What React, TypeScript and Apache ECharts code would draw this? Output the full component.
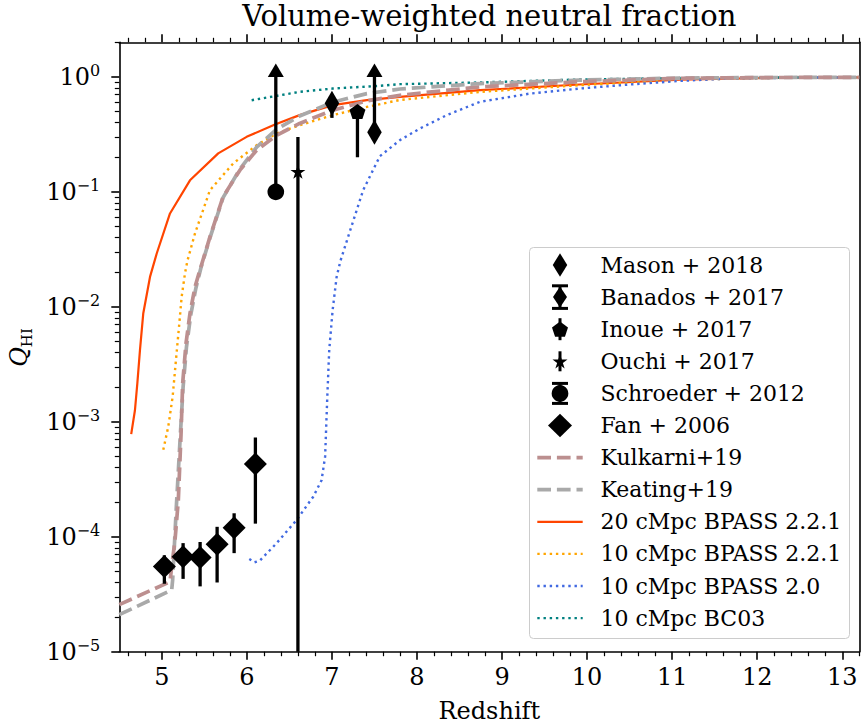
import React, { useEffect, useRef } from 'react';
import * as echarts from 'echarts';

const FONT = 'DejaVu Serif';

// ---------- axes ----------
const X_MIN = 4.5;
const X_MAX = 13.2;
const Y_MIN = 1e-5;
const Y_MAX = 2;
const xMajorTicks = [5, 6, 7, 8, 9, 10, 11, 12, 13];
const yMajorExponents = [-5, -4, -3, -2, -1, 0];

// ---------- observations ----------
const fanZ = [5.03, 5.25, 5.45, 5.65, 5.85, 6.1];
const fanQ = [5.5e-5, 6.7e-5, 6.6e-5, 8.6e-5, 1.2e-4, 4.3e-4];
const fanLow = [3.9e-5, 4.3e-5, 3.7e-5, 4.0e-5, 7.2e-5, 1.3e-4];
const fanHigh = [6.9e-5, 8.8e-5, 9.0e-5, 1.22e-4, 1.6e-4, 7.3e-4];

const masonZ = [7.0];
const masonQ = [0.59];
const masonLow = [0.44];
const masonHigh = [0.7];

const banadosZ = [7.5];
const banadosQ = [0.33];
const banadosLow = [0.33];
const banadosHigh = [1.0];

const inoueZ = [7.3];
const inoueQ = [0.5];
const inoueLow = [0.2];
const inoueHigh = [0.5];

const ouchiZ = [6.6];
const ouchiQ = [0.15];
const ouchiLow = [0];
const ouchiHigh = [0.3];

const schroederZ = [6.34];
const schroederQ = [0.1];
const schroederLow = [0.1];
const schroederHigh = [1.0];

// ---------- model curves ----------
const kulkarniZ = [4.5, 5.096, 5.116, 5.155, 5.194, 5.226, 5.245, 5.284, 5.331, 5.39, 5.448, 5.566, 5.72, 5.918, 6.115, 6.35, 6.62, 7.01, 7.41, 7.8, 8.74, 9.91, 11.09, 12.2, 13.2];
const kulkarniQ = [2.57e-5, 4.06e-5, 5.48e-5, 9.35e-5, 2.08e-4, 7.9e-4, 2.16e-3, 4.8e-3, 8.77e-3, 0.0149, 0.0209, 0.0406, 0.0906, 0.1545, 0.2307, 0.311, 0.394, 0.513, 0.618, 0.693, 0.818, 0.906, 0.973, 0.988, 0.991];

const keatingZ = [4.5, 5.116, 5.127, 5.17, 5.215, 5.25, 5.29, 5.34, 5.4, 5.46, 5.566, 5.72, 5.918, 6.115, 6.35, 6.62, 7.01, 7.41, 7.8, 8.74, 9.91, 11.09, 12.2, 13.2];
const keatingQ = [2.1e-5, 3.44e-5, 4.2e-5, 1.78e-4, 7.1e-4, 2.0e-3, 4.5e-3, 8.5e-3, 0.0145, 0.0219, 0.0398, 0.089, 0.158, 0.245, 0.351, 0.457, 0.603, 0.716, 0.785, 0.875, 0.938, 0.977, 0.988, 0.991];

const bpass221_20Z = [4.64, 4.684, 4.712, 4.743, 4.782, 4.861, 4.94, 5.096, 5.331, 5.663, 5.997, 6.33, 6.62, 7.01, 7.41, 7.8, 8.74, 9.91, 11.09, 12.2, 13.2];
const bpass221_20Q = [7.8e-4, 1.26e-3, 2.16e-3, 4.2e-3, 8.8e-3, 0.0182, 0.0291, 0.0649, 0.126, 0.216, 0.301, 0.386, 0.465, 0.568, 0.627, 0.67, 0.766, 0.859, 0.948, 0.982, 0.991];

const bpass221_10Z = [5.017, 5.076, 5.127, 5.166, 5.202, 5.233, 5.272, 5.3, 5.39, 5.566, 5.84, 6.115, 6.35, 6.62, 7.01, 7.41, 7.8, 8.74, 9.91, 11.09, 12.2, 13.2];
const bpass221_10Q = [5.7e-4, 9.1e-4, 1.65e-3, 3.44e-3, 6.7e-3, 0.0122, 0.0195, 0.025, 0.0435, 0.1035, 0.177, 0.255, 0.322, 0.38, 0.465, 0.548, 0.63, 0.741, 0.847, 0.944, 0.98, 0.991];

const bpass20_10Z = [6.028, 6.09, 6.153, 6.35, 6.585, 6.78, 6.878, 6.92, 6.944, 6.968, 7.008, 7.055, 7.1, 7.19, 7.367, 7.563, 7.8, 8.035, 8.35, 8.74, 9.326, 9.91, 10.5, 11.09, 11.68, 12.5, 13.2];
const bpass20_10Q = [6.4e-5, 6.0e-5, 6.2e-5, 8.8e-5, 1.4e-4, 2.23e-4, 3.1e-4, 5.0e-4, 1.55e-3, 4.2e-3, 9.35e-3, 0.0182, 0.0251, 0.0406, 0.1035, 0.204, 0.282, 0.356, 0.465, 0.607, 0.716, 0.792, 0.859, 0.923, 0.968, 0.986, 0.991];

const bc03Z = [6.056, 6.62, 7.01, 7.56, 7.8, 8.74, 9.91, 11.09, 12.2, 13.2];
const bc03Q = [0.627, 0.741, 0.792, 0.836, 0.865, 0.895, 0.95, 0.977, 0.988, 0.991];

// ---------- helpers ----------
const LOG = (v: number) => Math.log10(v);
const LOG_MIN = LOG(Y_MIN);
const LOG_MAX = LOG(Y_MAX);

const xMinorTicks: number[] = [];
for (let i = Math.ceil(X_MIN * 5); i <= Math.floor(X_MAX * 5 + 1e-9); i++) {
  if (i % 5 !== 0) xMinorTicks.push(Math.round(i * 2) / 10);
}
const yMinorTicks: number[] = [];
for (let n = -5; n <= 0; n++) {
  for (let k = 2; k <= 9; k++) {
    const v = LOG(k * Math.pow(10, n));
    if (v <= LOG_MAX + 1e-12) yMinorTicks.push(Math.min(v, LOG_MAX));
  }
}

const PENT = [[0, -1], [0.951, -0.309], [0.588, 0.809], [-0.588, 0.809], [-0.951, -0.309]];
const STAR = [[0, -1], [0.225, -0.309], [0.951, -0.309], [0.363, 0.118], [0.588, 0.809], [0, 0.382], [-0.588, 0.809], [-0.363, 0.118], [-0.951, -0.309], [-0.225, -0.309]];
const toPath = (pts: number[][]) => 'path://M' + pts.map((p) => p[0] + ',' + p[1]).join('L') + 'Z';

type Obs = {
  name: string; z: number[]; q: number[]; lo: number[]; hi: number[]; lowerLimit: boolean;
  kind: 'diamond' | 'pent' | 'star' | 'circle'; w: number; h: number;
  legendBar: number; legendCaps: boolean; legendW: number; legendH: number;
};

const observations: Obs[] = [
  { name: 'Mason + 2018', z: masonZ, q: masonQ, lo: masonLow, hi: masonHigh, lowerLimit: false, kind: 'diamond', w: 14.5, h: 25, legendBar: 0, legendCaps: false, legendW: 14.5, legendH: 23.5 },
  { name: 'Banados + 2017', z: banadosZ, q: banadosQ, lo: banadosLow, hi: banadosHigh, lowerLimit: true, kind: 'diamond', w: 14.5, h: 25, legendBar: 11.3, legendCaps: true, legendW: 14, legendH: 21 },
  { name: 'Inoue + 2017', z: inoueZ, q: inoueQ, lo: inoueLow, hi: inoueHigh, lowerLimit: false, kind: 'pent', w: 16, h: 15.2, legendBar: 11, legendCaps: false, legendW: 16, legendH: 15.2 },
  { name: 'Ouchi + 2017', z: ouchiZ, q: ouchiQ, lo: ouchiLow, hi: ouchiHigh, lowerLimit: false, kind: 'star', w: 15, h: 14.3, legendBar: 10, legendCaps: false, legendW: 15, legendH: 14.3 },
  { name: 'Schroeder + 2012', z: schroederZ, q: schroederQ, lo: schroederLow, hi: schroederHigh, lowerLimit: true, kind: 'circle', w: 16.7, h: 16.7, legendBar: 10, legendCaps: true, legendW: 16.7, legendH: 16.7 },
  { name: 'Fan + 2006', z: fanZ, q: fanQ, lo: fanLow, hi: fanHigh, lowerLimit: false, kind: 'diamond', w: 23, h: 23, legendBar: 0, legendCaps: false, legendW: 24, legendH: 23.5 },
];

type Curve = { name: string; z: number[]; q: number[]; color: string; width: number; dash: number[] | 'solid'; order: number };
const DASHED = [13.7, 5.9];
const DOTTED = [2.4, 3.8];
const curves: Curve[] = [
  { name: 'Kulkarni+19', z: kulkarniZ, q: kulkarniQ, color: '#bc8f8f', width: 3.7, dash: DASHED, order: 6 },
  { name: 'Keating+19', z: keatingZ, q: keatingQ, color: '#a9a9a9', width: 3.7, dash: DASHED, order: 5 },
  { name: '20 cMpc BPASS 2.2.1', z: bpass221_20Z, q: bpass221_20Q, color: '#ff4500', width: 2.2, dash: 'solid', order: 1 },
  { name: '10 cMpc BPASS 2.2.1', z: bpass221_10Z, q: bpass221_10Q, color: '#ffa500', width: 2.4, dash: DOTTED, order: 2 },
  { name: '10 cMpc BPASS 2.0', z: bpass20_10Z, q: bpass20_10Q, color: '#4169e1', width: 2.4, dash: DOTTED, order: 3 },
  { name: '10 cMpc BC03', z: bc03Z, q: bc03Q, color: '#008080', width: 2.4, dash: DOTTED, order: 4 },
];

const symbolFor = (kind: Obs['kind']) =>
  kind === 'diamond' ? 'diamond' : kind === 'circle' ? 'circle' : kind === 'pent' ? toPath(PENT) : toPath(STAR);

// ---------- layout ----------
const GRID = { left: 119.3, right: 1.7, top: 42.3, bottom: 75.3 };
const LEG = { x: 529.5, y: 247.5, w: 320, h: 391, row0: 265, rowGap: 32.1, iconX: 560, textX: 600.5, lineX0: 537.3, lineX1: 582.7 };

function markerShape(kind: Obs['kind'], cx: number, cy: number, w: number, h: number) {
  if (kind === 'circle') return { type: 'circle', shape: { cx, cy, r: w / 2 }, style: { fill: '#000' }, z: 102 };
  let pts: number[][];
  if (kind === 'diamond') pts = [[0, -h / 2], [w / 2, 0], [0, h / 2], [-w / 2, 0]];
  else {
    const base = kind === 'pent' ? PENT : STAR;
    const sx = w / 1.902, sy = h / 1.809;
    pts = base.map((p) => [p[0] * sx, (p[1] + 0.0955) * sy]);
  }
  return { type: 'polygon', shape: { points: pts.map((p) => [cx + p[0], cy + p[1]]) }, style: { fill: '#000' }, z: 102 };
}

function buildLegend() {
  const els: any[] = [];
  els.push({ type: 'rect', shape: { x: LEG.x, y: LEG.y, width: LEG.w, height: LEG.h, r: 4 }, style: { fill: 'rgba(255,255,255,0.8)', stroke: '#cccccc', lineWidth: 1 }, z: 100 });
  let row = 0;
  observations.forEach((o) => {
    const cy = LEG.row0 + row * LEG.rowGap;
    if (o.legendBar > 0) {
      els.push({ type: 'line', shape: { x1: LEG.iconX, y1: cy - o.legendBar, x2: LEG.iconX, y2: cy + o.legendBar }, style: { stroke: '#000', lineWidth: 3 }, z: 101 });
      if (o.legendCaps) {
        [cy - o.legendBar, cy + o.legendBar].forEach((yy) =>
          els.push({ type: 'line', shape: { x1: LEG.iconX - 8, y1: yy, x2: LEG.iconX + 8, y2: yy }, style: { stroke: '#000', lineWidth: 3 }, z: 101 })
        );
      }
    }
    els.push(markerShape(o.kind, LEG.iconX, cy, o.legendW, o.legendH));
    els.push({ type: 'text', x: LEG.textX, y: cy, style: { text: o.name, fontSize: 22, fontFamily: FONT, fill: '#000', align: 'left', verticalAlign: 'middle' }, z: 102 });
    row++;
  });
  curves.forEach((c) => {
    const cy = LEG.row0 + row * LEG.rowGap;
    els.push({ type: 'line', shape: { x1: LEG.lineX0, y1: cy, x2: LEG.lineX1, y2: cy }, style: { stroke: c.color, lineWidth: c.width, lineDash: c.dash === 'solid' ? null : c.dash, lineCap: 'butt' }, z: 101 });
    els.push({ type: 'text', x: LEG.textX, y: cy, style: { text: c.name, fontSize: 22, fontFamily: FONT, fill: '#000', align: 'left', verticalAlign: 'middle' }, z: 102 });
    row++;
  });
  return els;
}

function buildOption() {
  const axisLine = { color: '#000', width: 1.6 };
  const baseX = { type: 'value', min: X_MIN, max: X_MAX, splitLine: { show: false } };
  const baseY = { type: 'value', min: LOG_MIN, max: LOG_MAX, splitLine: { show: false } };

  const xAxis = [
    {
      ...baseX, position: 'bottom',
      axisLine: { show: true, onZero: false, lineStyle: axisLine },
      axisTick: { show: true, customValues: xMajorTicks, length: 8, lineStyle: axisLine },
      axisLabel: { show: true, customValues: xMajorTicks, fontSize: 24, fontFamily: FONT, color: '#000', margin: 13 },
      name: 'Redshift', nameLocation: 'middle', nameGap: 47,
      nameTextStyle: { fontSize: 24, fontFamily: FONT, color: '#000' },
    },
    {
      ...baseX, position: 'bottom',
      axisLine: { show: false, onZero: false },
      axisTick: { show: true, customValues: xMinorTicks, length: 4.5, lineStyle: { color: '#000', width: 1.2 } },
      axisLabel: { show: false },
    },
    {
      ...baseX, position: 'top',
      axisLine: { show: true, onZero: false, lineStyle: axisLine },
      axisTick: { show: true, customValues: xMajorTicks, length: 8, lineStyle: axisLine },
      axisLabel: { show: false },
    },
    {
      ...baseX, position: 'top',
      axisLine: { show: false, onZero: false },
      axisTick: { show: true, customValues: xMinorTicks, length: 4.5, lineStyle: { color: '#000', width: 1.2 } },
      axisLabel: { show: false },
    },
  ];

  const yAxis = [
    {
      ...baseY, position: 'left',
      axisLine: { show: true, onZero: false, lineStyle: axisLine },
      axisTick: { show: true, customValues: yMajorExponents, length: 8, lineStyle: axisLine },
      axisLabel: {
        show: true, customValues: yMajorExponents, margin: 19,
        formatter: (v: number) => {
          const n = Math.round(v);
          return '{b|10}{s|' + (n < 0 ? '\u2212' : '') + Math.abs(n) + '}';
        },
        rich: {
          b: { fontSize: 24, fontFamily: FONT, color: '#000', lineHeight: 28 },
          s: { fontSize: 16, fontFamily: FONT, color: '#000', lineHeight: 19, verticalAlign: 'top' },
        },
      },
    },
    {
      ...baseY, position: 'left',
      axisLine: { show: false, onZero: false },
      axisTick: { show: true, customValues: yMinorTicks, length: 4.5, lineStyle: { color: '#000', width: 1.2 } },
      axisLabel: { show: false },
    },
    {
      ...baseY, position: 'right',
      axisLine: { show: true, onZero: false, lineStyle: axisLine },
      axisTick: { show: false },
      axisLabel: { show: false },
    },
  ];

  const series: any[] = [];
  [...curves].sort((a, b) => a.order - b.order).forEach((c) => {
    series.push({
      type: 'line', name: c.name, xAxisIndex: 0, yAxisIndex: 0,
      data: c.z.map((z, i) => [z, LOG(c.q[i])]),
      showSymbol: false, symbol: 'none', silent: true, z: 2 + c.order * 0.01,
      lineStyle: { color: c.color, width: c.width, type: c.dash, cap: 'butt', join: 'round' },
    });
  });

  const errData: number[][] = [];
  observations.forEach((o) => {
    o.z.forEach((z, i) => {
      const lo = o.lo[i] > 0 ? Math.max(LOG(o.lo[i]), LOG_MIN) : LOG_MIN;
      const hi = LOG(o.hi[i]);
      errData.push([z, lo, hi, o.lowerLimit ? 1 : 0]);
    });
  });
  series.push({
    type: 'custom', name: 'errorbars', xAxisIndex: 0, yAxisIndex: 0, z: 3, silent: true,
    data: errData,
    renderItem: (_params: any, api: any) => {
      const x = api.value(0), lo = api.value(1), hi = api.value(2), lim = api.value(3);
      const p1 = api.coord([x, lo]);
      const p2 = api.coord([x, hi]);
      const children: any[] = [];
      if (Math.abs(p1[1] - p2[1]) > 0.5) {
        children.push({ type: 'line', shape: { x1: p1[0], y1: p1[1], x2: p2[0], y2: p2[1] }, style: { stroke: '#000', lineWidth: 3.3 } });
      }
      if (lim) {
        children.push({ type: 'polygon', shape: { points: [[p2[0] - 8, p2[1]], [p2[0] + 8, p2[1]], [p2[0], p2[1] - 13.5]] }, style: { fill: '#000' } });
      }
      return { type: 'group', children };
    },
  });

  observations.forEach((o) => {
    series.push({
      type: 'scatter', name: o.name, xAxisIndex: 0, yAxisIndex: 0, z: 4, silent: true,
      data: o.z.map((z, i) => [z, LOG(o.q[i])]),
      symbol: symbolFor(o.kind), symbolSize: [o.w, o.h],
      itemStyle: { color: '#000', opacity: 1 },
    });
  });

  const graphic: any[] = [
    { type: 'text', x: (GRID.left + 861 - GRID.right) / 2, y: 16, style: { text: 'Volume-weighted neutral fraction', fontSize: 29, fontFamily: FONT, fill: '#000', align: 'center', verticalAlign: 'middle' }, z: 100 },
    {
      type: 'text', x: 19, y: 347.5, rotation: Math.PI / 2,
      style: {
        text: '{q|Q}{s|HI}', align: 'center', verticalAlign: 'middle',
        rich: {
          q: { fontSize: 24, fontFamily: FONT, fontStyle: 'italic', fill: '#000', lineHeight: 30 },
          s: { fontSize: 15, fontFamily: FONT, fill: '#000', lineHeight: 18, verticalAlign: 'bottom' },
        },
      },
      z: 100,
    },
    ...buildLegend(),
  ];

  return {
    animation: false,
    backgroundColor: '#ffffff',
    grid: { ...GRID, containLabel: false, outerBoundsMode: 'none' },
    xAxis, yAxis, series, graphic,
  };
}

export default function App() {
  const ref = useRef<HTMLDivElement>(null);
  useEffect(() => {
    if (!ref.current) return;
    const chart = echarts.init(ref.current, null, { renderer: 'svg' });
    chart.setOption(buildOption() as any);
    return () => chart.dispose();
  }, []);
  return <div ref={ref} style={{ position: 'fixed', left: 0, top: 0, width: 861, height: 727, background: '#fff' }} />;
}
